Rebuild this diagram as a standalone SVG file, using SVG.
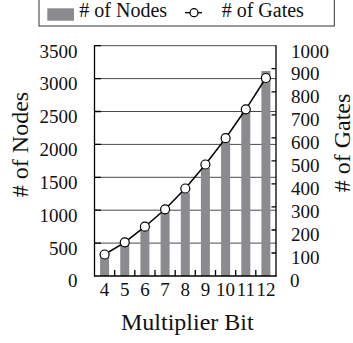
<svg xmlns="http://www.w3.org/2000/svg" width="353" height="343" viewBox="0 0 353 343">
<style>
text{font-family:"Liberation Serif","Times New Roman",serif;fill:#111}
.tk{font-size:19px}
.tl{text-anchor:end}
.tc{text-anchor:middle}
.ttl{font-size:24px}
.lg{font-size:20px}
.grid{stroke:#4a4a4a;stroke-width:1}
.ax{stroke:#000;stroke-width:1.3;fill:none}
.bar{fill:#8b8b8f}
.mk{fill:#fff;stroke:#000;stroke-width:1.2}
</style>
<rect width="353" height="343" fill="#fff"/>
<g id="legend">
<rect x="39" y="-1" width="295.3" height="27" fill="#fff" stroke="#333" stroke-width="1"/>
<rect x="47.3" y="8.3" width="26.7" height="12.4" class="bar"/>
<text x="79.3" y="17.3" class="lg">#&#160;of Nodes</text>
<line x1="185" y1="12.7" x2="202" y2="12.7" stroke="#000" stroke-width="1.3"/>
<circle cx="194" cy="12.7" r="4" class="mk"/>
<text x="221.7" y="17.3" class="lg">#&#160;of Gates</text>
</g>
<g id="gridlines">
<line x1="94.5" y1="45.7" x2="276" y2="45.7" class="grid"/>
<line x1="94.5" y1="78.6" x2="276" y2="78.6" class="grid"/>
<line x1="94.5" y1="111.5" x2="276" y2="111.5" class="grid"/>
<line x1="94.5" y1="144.4" x2="276" y2="144.4" class="grid"/>
<line x1="94.5" y1="177.3" x2="276" y2="177.3" class="grid"/>
<line x1="94.5" y1="210.2" x2="276" y2="210.2" class="grid"/>
<line x1="94.5" y1="243.1" x2="276" y2="243.1" class="grid"/>
</g>
<g id="bars">
<rect x="100.1" y="257" width="9" height="19" class="bar"/>
<rect x="120.25" y="244.5" width="9" height="31.5" class="bar"/>
<rect x="140.4" y="230" width="9" height="46" class="bar"/>
<rect x="160.6" y="213" width="9" height="63" class="bar"/>
<rect x="180.8" y="192.5" width="9" height="83.5" class="bar"/>
<rect x="200.9" y="168" width="9" height="108" class="bar"/>
<rect x="221.1" y="141.5" width="9" height="134.5" class="bar"/>
<rect x="241.3" y="112" width="9" height="164" class="bar"/>
<rect x="261.4" y="71" width="9" height="205" class="bar"/>
</g>
<g id="axes">
<line x1="94.5" y1="45.2" x2="94.5" y2="276.6" class="ax"/>
<line x1="276" y1="45.2" x2="276" y2="276.6" class="ax"/>
<line x1="94" y1="276" x2="276.5" y2="276" class="ax" stroke-width="1.6"/>
<path class="ax" d="M114.7 276v-6M134.8 276v-6M155 276v-6M175.2 276v-6M195.3 276v-6M215.5 276v-6M235.7 276v-6M255.8 276v-6"/>
<path class="ax" d="M94.5 45.7h6.5M94.5 78.6h6.5M94.5 111.5h6.5M94.5 144.4h6.5M94.5 177.3h6.5M94.5 210.2h6.5M94.5 243.1h6.5"/>
<path class="ax" d="M276 253h-4.5M276 230h-4.5M276 206.9h-4.5M276 183.9h-4.5M276 160.9h-4.5M276 137.8h-4.5M276 114.8h-4.5M276 91.8h-4.5M276 68.7h-4.5"/>
</g>
<g id="connectors">
<polyline points="104.6,254.5 124.75,242.3 144.9,226.7 165.1,209.3 185.3,188.5 205.4,164.5 225.6,138.2 245.8,109.3 265.9,78" fill="none" stroke="#000" stroke-width="1.5" stroke-linejoin="round"/>
</g>
<g id="markers">
<circle cx="104.6" cy="254.5" r="4.5" class="mk"/>
<circle cx="124.75" cy="242.3" r="4.5" class="mk"/>
<circle cx="144.9" cy="226.7" r="4.5" class="mk"/>
<circle cx="165.1" cy="209.3" r="4.5" class="mk"/>
<circle cx="185.3" cy="188.5" r="4.5" class="mk"/>
<circle cx="205.4" cy="164.5" r="4.5" class="mk"/>
<circle cx="225.6" cy="138.2" r="4.5" class="mk"/>
<circle cx="245.8" cy="109.3" r="4.5" class="mk"/>
<circle cx="265.9" cy="78" r="4.5" class="mk"/>
</g>
<g id="left-labels" class="tk tl">
<text x="77.5" y="57.8" class="tk tl">3500</text>
<text x="77.5" y="90" class="tk tl">3000</text>
<text x="77.5" y="123" class="tk tl">2500</text>
<text x="77.5" y="155.9" class="tk tl">2000</text>
<text x="77.5" y="188.8" class="tk tl">1500</text>
<text x="77.5" y="221.7" class="tk tl">1000</text>
<text x="77.5" y="254.6" class="tk tl">500</text>
<text x="77.5" y="287" class="tk tl">0</text>
</g>
<g id="right-labels">
<text x="291" y="57.8" class="tk">1000</text>
<text x="291" y="80" class="tk">900</text>
<text x="291" y="102.8" class="tk">800</text>
<text x="291" y="125.8" class="tk">700</text>
<text x="291" y="148.9" class="tk">600</text>
<text x="291" y="171.9" class="tk">500</text>
<text x="291" y="194.9" class="tk">400</text>
<text x="291" y="218" class="tk">300</text>
<text x="291" y="241" class="tk">200</text>
<text x="291" y="264" class="tk">100</text>
<text x="290" y="286.5" class="tk">0</text>
</g>
<g id="x-labels">
<text x="104.6" y="296" class="tk tc">4</text>
<text x="124.75" y="296" class="tk tc">5</text>
<text x="144.9" y="296" class="tk tc">6</text>
<text x="165.1" y="296" class="tk tc">7</text>
<text x="185.3" y="296" class="tk tc">8</text>
<text x="205.4" y="296" class="tk tc">9</text>
<text x="225.6" y="296" class="tk tc">10</text>
<text x="245.8" y="296" class="tk tc">11</text>
<text x="265.9" y="296" class="tk tc">12</text>
</g>
<g id="titles">
<text x="187.3" y="330" class="ttl tc">Multiplier Bit</text>
<text transform="translate(28.3,144.5) rotate(-90)" class="ttl tc">#&#160;of Nodes</text>
<text transform="translate(349.5,143) rotate(-90)" class="ttl tc">#&#160;of Gates</text>
</g>
</svg>
